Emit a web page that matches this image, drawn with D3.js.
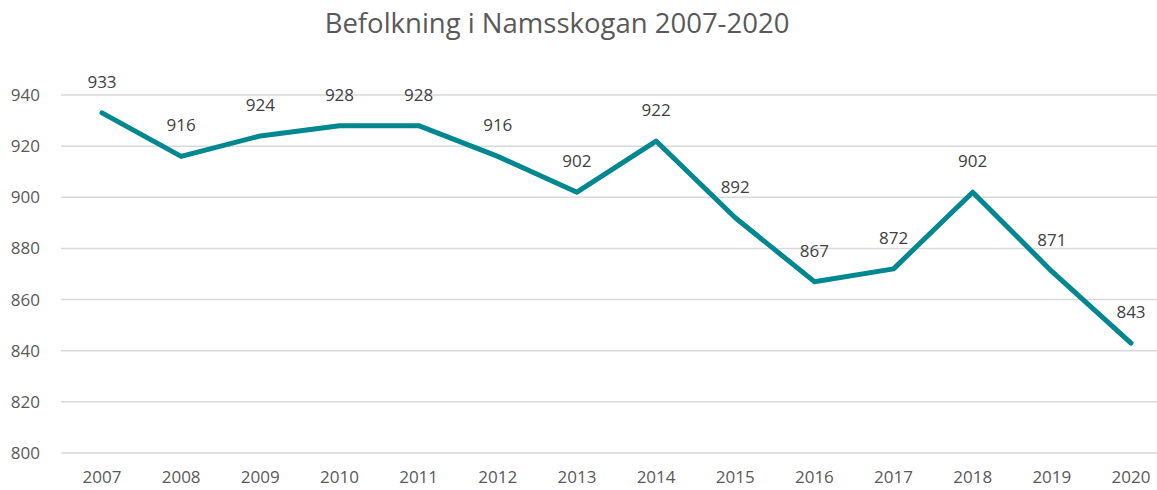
<html>
<head>
<script src="https://cdn.jsdelivr.net/npm/d3@7"></script>
<style>
  body { margin: 0; background: #fff; }
  text { font-family: 'Open Sans', sans-serif; }
</style>
</head>
<body>
<div id="chart"></div>
<script>
  var years = ['2007','2008','2009','2010','2011','2012','2013','2014','2015','2016','2017','2018','2019','2020'];
  var population = [933, 916, 924, 928, 928, 916, 902, 922, 892, 867, 872, 902, 871, 843];
  var yTicks = [800, 820, 840, 860, 880, 900, 920, 940];

  var width = 1157, height = 490;

  var svg = d3.select('#chart').append('svg')
      .attr('width', width)
      .attr('height', height);

  var x = d3.scalePoint()
      .domain(years)
      .range([102, 1131]);

  var y = d3.scaleLinear()
      .domain([800, 940])
      .range([453, 95]);

  // title
  svg.append('text')
      .attr('x', 557)
      .attr('y', 33)
      .attr('text-anchor', 'middle')
      .style('font-size', '27.5px')
      .style('fill', '#595959')
      .text('Befolkning i Namsskogan 2007-2020');

  // gridlines
  svg.append('g')
    .selectAll('line')
    .data(yTicks)
    .enter()
    .append('line')
      .attr('x1', 61)
      .attr('x2', width)
      .attr('y1', function (d) { return y(d); })
      .attr('y2', function (d) { return y(d); })
      .style('stroke', '#d9d9d9')
      .style('stroke-width', 1.5);

  // y axis labels
  svg.append('g')
    .selectAll('text')
    .data(yTicks)
    .enter()
    .append('text')
      .attr('x', 40)
      .attr('y', function (d) { return y(d); })
      .attr('dy', '0.35em')
      .attr('text-anchor', 'end')
      .style('font-size', '17px')
      .style('fill', '#595959')
      .text(function (d) { return d; });

  // x axis labels
  svg.append('g')
    .selectAll('text')
    .data(years)
    .enter()
    .append('text')
      .attr('x', function (d) { return x(d); })
      .attr('y', 477)
      .attr('dy', '0.35em')
      .attr('text-anchor', 'middle')
      .style('font-size', '17px')
      .style('fill', '#595959')
      .text(function (d) { return d; });

  var line = d3.line()
      .x(function (d, i) { return x(years[i]); })
      .y(function (d) { return y(d); });

  svg.append('path')
      .datum(population)
      .attr('d', line)
      .style('fill', 'none')
      .style('stroke', '#00878f')
      .style('stroke-width', 5)
      .style('stroke-linejoin', 'round')
      .style('stroke-linecap', 'round');

  // data labels
  svg.append('g')
    .selectAll('text')
    .data(population)
    .enter()
    .append('text')
      .attr('x', function (d, i) { return x(years[i]); })
      .attr('y', function (d) { return y(d) - 31; })
      .attr('dy', '0.35em')
      .attr('text-anchor', 'middle')
      .style('font-size', '17px')
      .style('fill', '#404040')
      .text(function (d) { return d; });
</script>
</body>
</html>
